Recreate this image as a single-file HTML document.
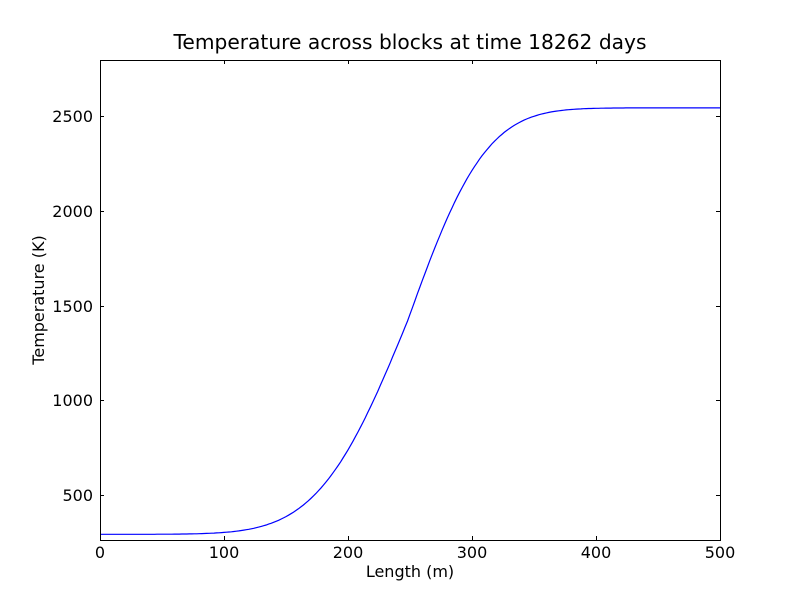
<!DOCTYPE html>
<html><head><style>
body{margin:0;background:#fff;}
svg{display:block;font-family:"DejaVu Sans","Liberation Sans",sans-serif;}
</style></head><body>
<svg id="s" width="800" height="600" viewBox="0 0 800 600">
<rect width="800" height="600" fill="#fff"/>
<path id="curve" fill="none" stroke="#0000ff" stroke-width="1.2"/>
<rect x="100.5" y="60.5" width="620" height="480" fill="none" stroke="#000" stroke-width="1"/>
<g stroke="#000" stroke-width="1" id="ticks"></g>
<g font-size="16" fill="#000" text-anchor="middle">
<text x="100" y="558">0</text>
<text x="224" y="558">100</text>
<text x="348" y="558">200</text>
<text x="472" y="558">300</text>
<text x="596" y="558">400</text>
<text x="720" y="558">500</text>
</g>
<g font-size="16" fill="#000" text-anchor="end">
<text x="93" y="501">500</text>
<text x="93" y="406">1000</text>
<text x="93" y="312">1500</text>
<text x="93" y="217">2000</text>
<text x="93" y="122">2500</text>
</g>
<text x="410" y="577" font-size="16" text-anchor="middle">Length (m)</text>
<text x="44" y="300" font-size="16" text-anchor="middle" transform="rotate(-90 44 300)">Temperature (K)</text>
<text x="410" y="49" font-size="20.2" text-anchor="middle">Temperature across blocks at time 18262 days</text>
</svg>
<script>
function erf(x){var s=x<0?-1:1;x=Math.abs(x);var t=1/(1+0.3275911*x);var y=1-(((((1.061405429*t-1.453152027)*t)+1.421413741)*t-0.284496736)*t+0.254829592)*t*Math.exp(-x*x);return s*y;}
var d="";
for(var i=0;i<=500;i+=2){var w=i<248?80:70;var f=0.5*(1+erf((i-248)/w));var T=293+2254*f;var px=100+i*1.24;var py=540-(T-263)*0.1892;d+=(i?"L":"M")+px.toFixed(1)+" "+py.toFixed(1);}
document.getElementById("curve").setAttribute("d",d);
var g=document.getElementById("ticks"),h="";
[100,224,348,472,596,720].forEach(function(x){x+=0.5;h+='<line x1="'+x+'" y1="540" x2="'+x+'" y2="536"/><line x1="'+x+'" y1="60" x2="'+x+'" y2="64"/>';});
[495,400,306,211,116].forEach(function(y){y+=0.5;h+='<line x1="100" y1="'+y+'" x2="104" y2="'+y+'"/><line x1="720" y1="'+y+'" x2="716" y2="'+y+'"/>';});
g.innerHTML=h;
</script>
</body></html>
